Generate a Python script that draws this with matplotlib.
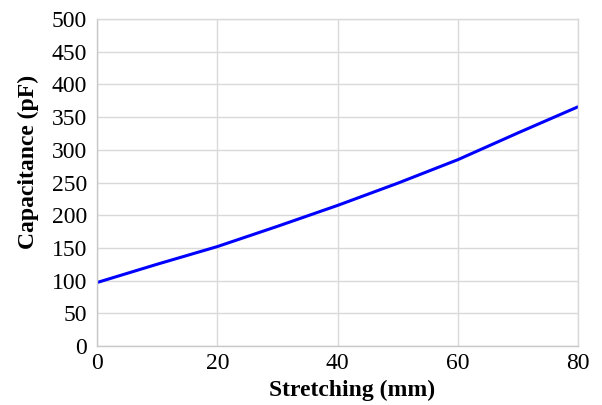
import matplotlib
matplotlib.use("Agg")
import matplotlib.pyplot as plt

stretching = [0, 10, 20, 30, 40, 50, 60, 70, 80]
capacitance = [97, 125, 152, 183, 215, 249, 285, 326, 366]
x_ticks = [0, 20, 40, 60, 80]
y_ticks = list(range(0, 501, 50))

plt.rcParams['font.family'] = ['Liberation Serif', 'DejaVu Serif']

fig = plt.figure(figsize=(6.02, 4.05), dpi=100)
ax = fig.add_axes([0.161, 0.1457, 0.7997, 0.8073])
ax.plot(stretching, capacitance, color='#0000ff', linewidth=2.2, solid_capstyle='butt')
ax.set_xlim(0, 80)
ax.set_ylim(0, 500)
ax.set_xticks(x_ticks)
ax.set_yticks(y_ticks)
ax.grid(True, color='#d9d9d9', linewidth=1.0)
ax.set_axisbelow(True)
for s in ax.spines.values():
    s.set_color('#d9d9d9')
    s.set_linewidth(1.0)
ax.spines['bottom'].set_color('#c8c8c8')
ax.spines['left'].set_color('#c8c8c8')
ax.tick_params(length=0, labelsize=17, colors='black')
ax.tick_params(axis='x', pad=5)
ax.tick_params(axis='y', pad=7)
ax.set_xlabel('Stretching (mm)', fontsize=17, fontweight='bold')
ax.set_ylabel('Capacitance (pF)', fontsize=17, fontweight='bold')
ax.xaxis.set_label_coords(0.530, -0.103)
ax.yaxis.set_label_coords(-0.121, 0.564)
fig.savefig('out.png', dpi=100)
